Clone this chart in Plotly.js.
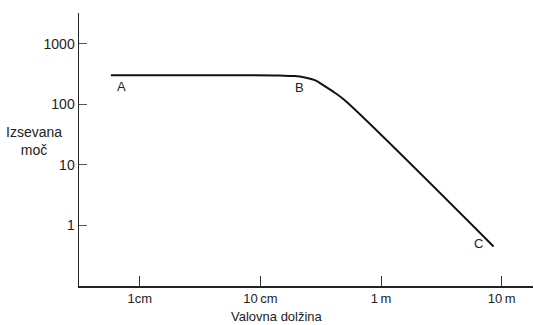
<!DOCTYPE html>
<html>
<head>
<meta charset="utf-8">
<script src="https://cdn.plot.ly/plotly-3.0.1.min.js"></script>
<style>html,body{margin:0;padding:0;background:#fff;}#chart{width:534px;height:325px;}</style>
</head>
<body>
<div id="chart"></div>
<script>
// wavelength in cm, radiated power (relative)
var wavelengthCm = [0.575, 5, 14.5, 19.2, 23.3, 28.2, 34.1, 41.3, 50, 857];
var power        = [302, 302, 298, 292, 276, 250, 199, 155, 116, 0.44];
var xTickVals = [1, 10, 100, 1000];
var xTickText = ["1cm", "10\u2009cm", "1\u2009m", "10\u2009m"];
var yTickVals = [1, 10, 100, 1000];
var yTickText = ["1", "10", "100", "1000"];
var pointLabels = ["A", "B", "C"];
var pointLabelX = [0.7, 21, 640];
var pointLabelY = [200, 190, 0.5];

var font = "Liberation Sans, Arial, sans-serif";
var trace = {
  x: wavelengthCm, y: power, mode: "lines", type: "scatter",
  line: {color: "#111", width: 2, shape: "spline", smoothing: 1},
  hoverinfo: "none"
};
var ann = pointLabels.map(function(t, i){
  return {x: Math.log10(pointLabelX[i]), y: Math.log10(pointLabelY[i]), text: t, showarrow: false,
    font: {family: font, size: 13, color: "#222"}, xref: "x", yref: "y"};
});
ann.push({xref: "paper", yref: "paper", x: -0.1, y: 0.53, text: "Izsevana<br>moč", showarrow: false,
  font: {family: font, size: 14, color: "#222"}, xanchor: "center", yanchor: "middle", align: "center"});
ann.push({xref: "paper", yref: "paper", x: 0.436, y: -0.11, text: "Valovna dolžina", showarrow: false,
  font: {family: font, size: 13, color: "#222"}, xanchor: "center", yanchor: "middle"});

var layout = {
  width: 534, height: 325,
  margin: {l: 79, r: 1, t: 13, b: 39},
  paper_bgcolor: "#fff", plot_bgcolor: "#fff",
  showlegend: false,
  xaxis: {type: "log", range: [-0.505, 3.26], tickvals: xTickVals, ticktext: xTickText,
    ticks: "inside", ticklen: 10, tickwidth: 1, tickcolor: "#333",
    showline: true, linecolor: "#222", linewidth: 1.5, showgrid: false, zeroline: false,
    tickfont: {family: font, size: 13, color: "#222"}, fixedrange: true},
  yaxis: {type: "log", range: [-1.01, 3.51], tickvals: yTickVals, ticktext: yTickText,
    ticks: "inside", ticklen: 8, tickwidth: 1, tickcolor: "#555",
    showline: true, linecolor: "#222", linewidth: 1.5, showgrid: false, zeroline: false,
    tickfont: {family: font, size: 14, color: "#222"}, fixedrange: true},
  annotations: ann
};
Plotly.newPlot("chart", [trace], layout, {displayModeBar: false, staticPlot: true});
</script>
</body>
</html>
